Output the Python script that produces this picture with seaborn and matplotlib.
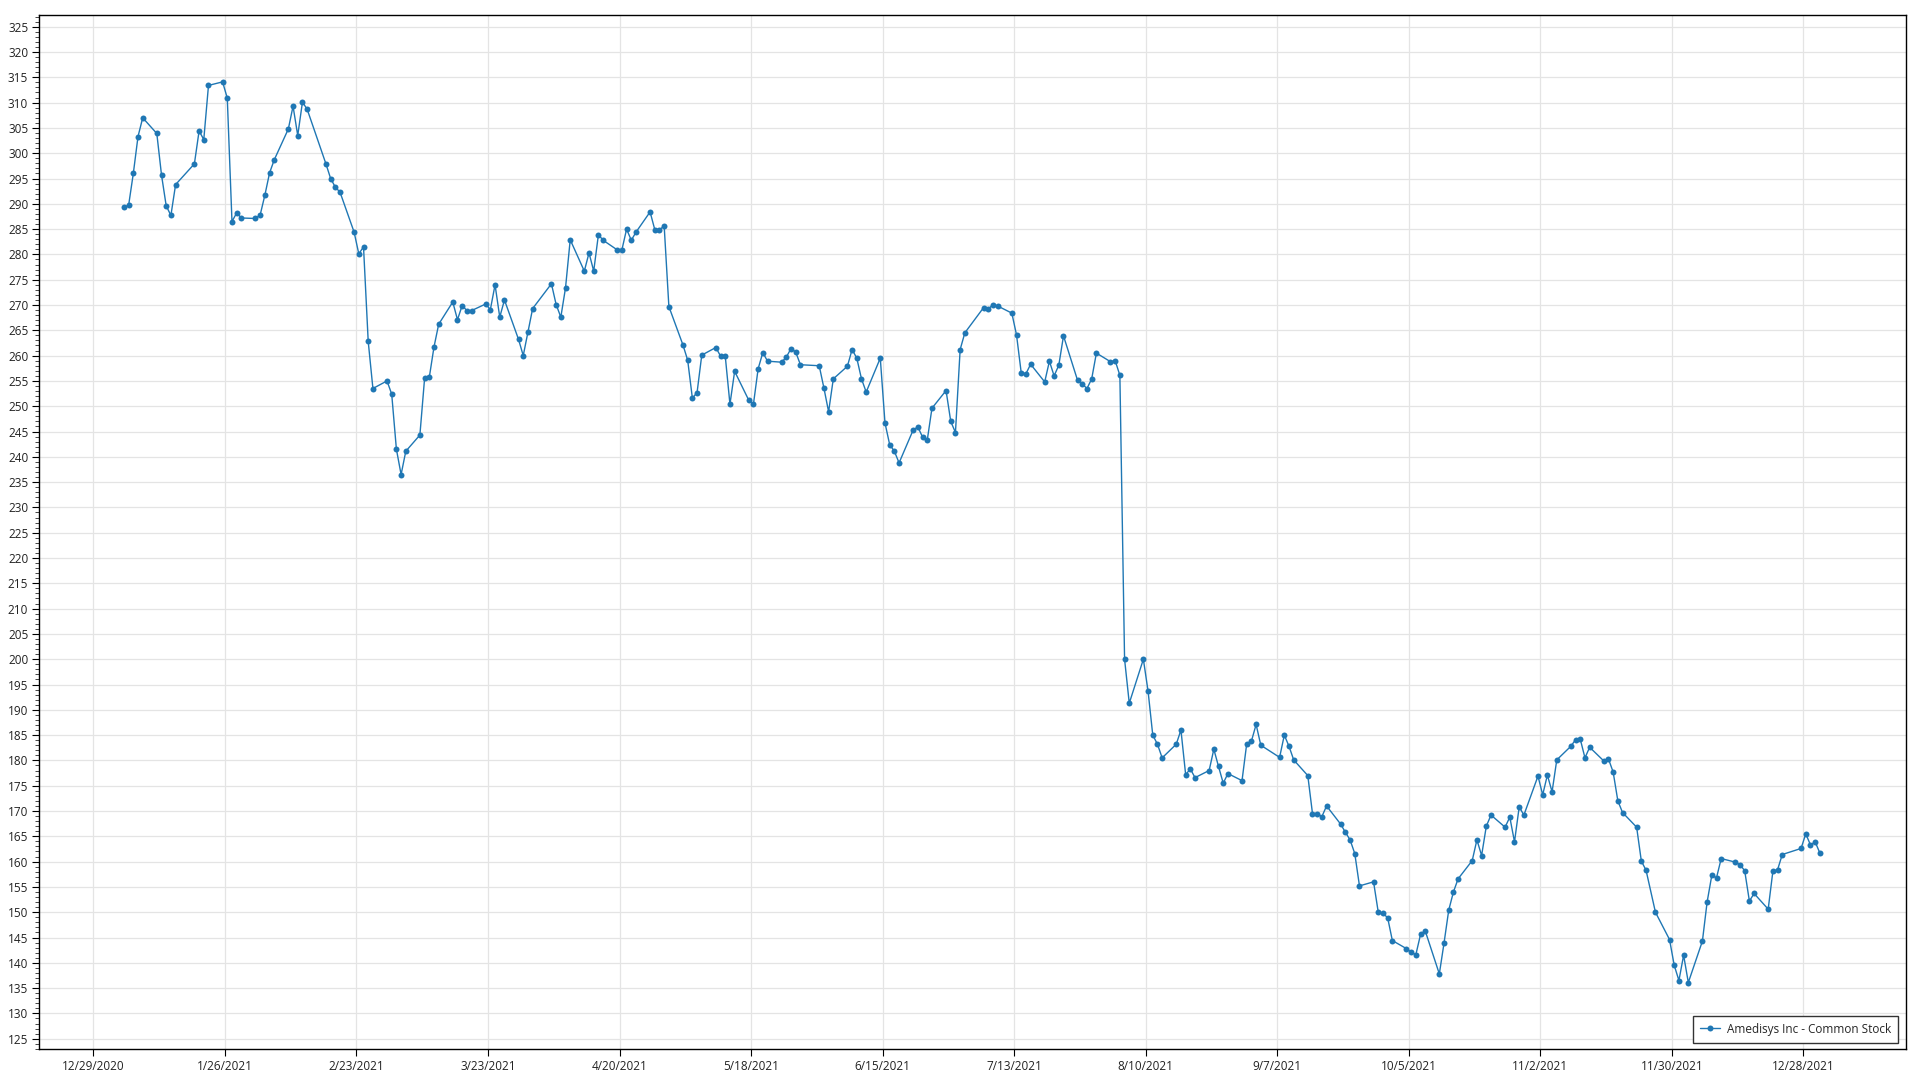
import numpy as np
import pandas as pd
import matplotlib
matplotlib.use("Agg")
import matplotlib.pyplot as plt
import matplotlib.ticker as mticker
import seaborn as sns

# NYSE holidays in 2021 (closed days), used to lay out the trading calendar
holidays = ["2021-01-01", "2021-01-18", "2021-02-15", "2021-04-02", "2021-05-31",
            "2021-07-05", "2021-09-06", "2021-11-25", "2021-12-24"]

# closing prices, one per trading day, month by month
jan = [289.3, 289.7, 296.0, 303.3, 307.0, 303.9, 295.7, 289.6, 287.7, 293.8,
       297.9, 304.4, 302.7, 313.4, 314.1, 310.9, 286.5, 288.2, 287.2]
feb = [287.1, 287.8, 291.7, 296.1, 298.7, 304.8, 309.3, 303.5, 310.1, 308.7,
       297.9, 295.0, 293.3, 292.3, 284.4, 280.1, 281.5, 262.8, 253.5]
mar = [255.0, 252.4, 241.5, 236.5, 241.1, 244.3, 255.5, 255.7, 261.7, 266.2,
       270.6, 267.1, 269.9, 268.9, 268.9, 270.2, 269.1, 274.0, 267.6, 271.0,
       263.2, 260.0, 264.7]
apr = [269.3, 274.2, 270.1, 267.6, 273.4, 282.9, 276.7, 280.3, 276.7, 283.9,
       282.8, 280.9, 280.9, 285.0, 282.8, 284.4, 288.4, 284.9, 284.9, 285.6,
       269.7]
may = [262.1, 259.1, 251.6, 252.7, 260.1, 261.6, 259.9, 259.9, 250.4, 256.9,
       251.2, 250.4, 257.4, 260.6, 258.9, 258.7, 259.7, 261.4, 260.7, 258.2]
jun = [258.0, 253.6, 248.9, 255.4, 257.9, 261.2, 259.5, 255.4, 252.8, 259.5,
       246.7, 242.4, 241.1, 238.8, 245.3, 245.9, 243.9, 243.3, 249.6, 253.1,
       247.0, 244.8]
jul = [261.2, 264.5, 269.5, 269.2, 270.1, 269.8, 268.4, 264.1, 256.6, 256.4,
       258.3, 254.8, 258.9, 256.0, 258.1, 263.9, 255.1, 254.4, 253.5, 255.4,
       260.5]
aug = [258.8, 259.0, 256.1, 200.0, 191.3, 200.0, 193.7, 185.0, 183.2, 180.5,
       183.2, 186.0, 177.2, 178.3, 176.6, 178.0, 182.2, 178.8, 175.5, 177.4,
       176.0, 183.3]
sep = [183.8, 187.1, 183.0, 180.6, 185.0, 182.8, 180.1, 177.0, 169.5, 169.5,
       168.9, 171.0, 167.4, 165.8, 164.3, 161.6, 155.2, 156.0, 150.0, 149.8,
       148.9]
oct_ = [144.4, 142.8, 142.1, 141.6, 145.6, 146.3, 137.8, 143.9, 150.4, 154.0,
        156.6, 160.2, 164.3, 161.2, 167.0, 169.2, 166.8, 168.8, 163.9, 170.8,
        169.2]
nov = [176.9, 173.2, 177.1, 173.8, 180.1, 182.8, 184.1, 184.2, 180.5, 182.6,
       179.9, 180.3, 177.7, 172.0, 169.7, 166.8, 160.1, 158.3, 150.0, 144.6,
       139.5]
dec = [136.5, 141.5, 136.1, 144.3, 152.0, 157.3, 156.8, 160.6, 159.9, 159.4,
       158.2, 152.2, 153.7, 150.6, 158.1, 158.4, 161.4, 162.6, 165.5, 163.3,
       163.9, 161.7]

series_name = "Amedisys Inc - Common Stock"

prices = jan + feb + mar + apr + may + jun + jul + aug + sep + oct_ + nov + dec
dates = pd.bdate_range("2021-01-04", "2021-12-31", freq="C", holidays=holidays)
df = pd.DataFrame({"Date": dates + pd.Timedelta(hours=12), "Close": prices})

tick_dates = pd.date_range("2020-12-29", "2021-12-28", freq="28D")
tick_labels = [f"{d.month}/{d.day}/{d.year}" for d in tick_dates]

sns.set_style("white")
plt.rcParams["font.family"] = ["Open Sans", "DejaVu Sans"]

fig = plt.figure(figsize=(19.2, 10.8), dpi=100)
ax = fig.add_axes([0.0205, 0.0284, 0.9721, 0.9574])

sns.lineplot(data=df, x="Date", y="Close", ax=ax, color="#1f77b4", linewidth=1.0,
             marker="o", markersize=4.3, markeredgewidth=0, label=series_name)

ax.set_xlim(pd.Timestamp("2020-12-17 12:00"), pd.Timestamp("2022-01-18 19:00"))
ax.set_ylim(122.9, 327.25)
ax.set_xticks(tick_dates)
ax.set_xticklabels(tick_labels)
ax.yaxis.set_major_locator(mticker.MultipleLocator(5))
ax.yaxis.set_minor_locator(mticker.MultipleLocator(1))
ax.yaxis.set_major_formatter(mticker.FormatStrFormatter("%d"))

ax.grid(True, which="major", color="#e4e4e4", linewidth=0.9)
ax.set_axisbelow(True)
ax.tick_params(axis="both", which="major", direction="out", length=5, width=0.8,
               labelsize=8.5, colors="#000000", labelcolor="#222222", pad=3)
ax.tick_params(axis="y", which="minor", direction="out", length=3, width=0.6,
               left=True)
ax.tick_params(axis="x", which="major", bottom=True)
ax.tick_params(axis="y", which="major", left=True)
for s in ax.spines.values():
    s.set_color("#000000")
    s.set_linewidth(1.0)
ax.set_xlabel("")
ax.set_ylabel("")

leg = ax.legend(loc="lower right", fontsize=8.5, frameon=True, fancybox=False,
                borderpad=0.6, handlelength=1.7, handletextpad=0.6,
                borderaxespad=0, bbox_to_anchor=(0.996, 0.0064))
leg.get_frame().set_edgecolor("#333333")
leg.get_frame().set_linewidth(1.0)
leg.get_frame().set_alpha(1)

fig.savefig("out.png", dpi=100)
